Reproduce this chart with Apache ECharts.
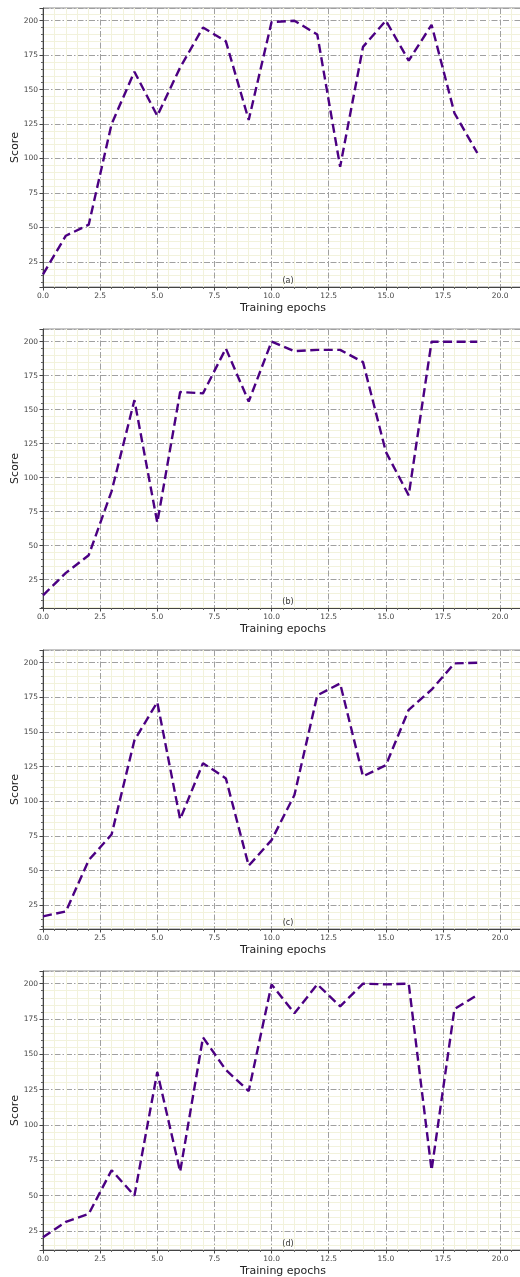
<!DOCTYPE html>
<html>
<head>
<meta charset="utf-8">
<script src="https://cdn.jsdelivr.net/npm/echarts@6/dist/echarts.min.js"></script>
<style>
html,body{margin:0;padding:0;background:#fff;}
#chart{width:520px;height:1277px;}
</style>
</head>
<body>
<div id="chart"></div>
<script>
// ---- data ----
const epochs = [0,1,2,3,4,5,6,7,8,9,10,11,12,13,14,15,16,17,18,19];
const scoresA = [16, 44, 52, 125, 163, 131, 166, 195, 185, 128, 199, 200, 190, 94, 181, 200, 171, 197, 133, 104];
const scoresB = [13.5, 30, 43, 90, 157, 67, 163, 162, 195, 156, 200, 193, 194, 194, 185, 119, 87, 200, 200, 200];
const scoresC = [17, 20.5, 57.5, 76, 144, 171.5, 87, 127.5, 116.5, 53.5, 72, 104.5, 176.5, 185, 118, 126, 166, 180.5, 199.5, 200];
const scoresD = [20.5, 31.5, 37, 68, 50, 137.5, 67, 162, 139, 124, 199.5, 179, 199.5, 184, 200, 199.5, 200, 68, 182, 192];
const panelLabels = ['(a)', '(b)', '(c)', '(d)'];
const xTitle = 'Training epochs';
const yTitle = 'Score';

const allScores = [scoresA, scoresB, scoresC, scoresD];

// ---- layout / style ----
const FONT = 'DejaVu Sans';
const tops = [8, 329, 650, 971];
const plotH = 279;
const left = 43;
const right = -3;

const grids = [], xAxes = [], yAxes = [], series = [], titles = [];

allScores.forEach((s, i) => {
  const dmin = Math.min(...s), dmax = Math.max(...s);
  const pad = 0.05 * (dmax - dmin);
  grids.push({
    left: left, right: right, top: tops[i], height: plotH,
    containLabel: false, outerBoundsMode: 'none',
    show: true, borderColor: '#8c8c8c', borderWidth: 1, backgroundColor: '#ffffff'
  });
  xAxes.push({
    type: 'value', gridIndex: i, min: 0, max: 21, interval: 2.5,
    name: xTitle, nameLocation: 'middle', nameGap: 16, nameMoveOverlap: false,
    nameTextStyle: { fontFamily: FONT, fontSize: 11, color: '#222' },
    axisLine: { show: true, onZero: false, lineStyle: { color: '#444', width: 1 } },
    axisTick: { show: true, inside: false, length: 3.5, lineStyle: { color: '#444' } },
    minorTick: { show: true, splitNumber: 5, length: 2, lineStyle: { color: '#666' } },
    axisLabel: {
      fontFamily: FONT, fontSize: 7.5, color: '#444', margin: 5,
      formatter: v => (v > 20.01 ? '' : v.toFixed(1))
    },
    splitLine: { show: true, lineStyle: { color: '#a0a0a0', width: 1, type: [6, 2, 1.5, 2] } },
    minorSplitLine: { show: true, lineStyle: { color: '#f2f2dc', width: 1 } },
    z: 3
  });
  yAxes.push({
    type: 'value', gridIndex: i, min: dmin - pad, max: dmax + pad,
    minInterval: 25, maxInterval: 25,
    name: yTitle, nameLocation: 'middle', nameGap: 22, nameMoveOverlap: false,
    nameTextStyle: { fontFamily: FONT, fontSize: 11, color: '#222' },
    axisLine: { show: true, lineStyle: { color: '#444', width: 1 } },
    axisTick: { show: true, inside: false, length: 3.5, lineStyle: { color: '#444' } },
    minorTick: { show: true, splitNumber: 5, length: 2, lineStyle: { color: '#666' } },
    axisLabel: {
      fontFamily: FONT, fontSize: 7.5, color: '#444', margin: 5,
      formatter: v => (Math.abs(v % 25) < 1e-6 ? String(Math.round(v)) : '')
    },
    splitLine: { show: true, lineStyle: { color: '#a0a0a0', width: 1, type: [6, 2, 1.5, 2] } },
    minorSplitLine: { show: true, lineStyle: { color: '#f2f2dc', width: 1 } },
    z: 3
  });
  series.push({
    type: 'line', xAxisIndex: i, yAxisIndex: i,
    data: epochs.map((e, k) => [e, s[k]]),
    showSymbol: false, symbol: 'none', animation: false,
    lineStyle: { color: '#4B0082', width: 2.4, type: [9, 4.5] },
    z: 5
  });
  titles.push({
    text: panelLabels[i], left: 283, top: tops[i] + plotH - 15, textAlign: 'center',
    textStyle: { fontFamily: FONT, fontSize: 8, fontWeight: 'normal', color: '#333' }
  });
});

const chart = echarts.init(document.getElementById('chart'), null, { renderer: 'canvas' });
chart.setOption({
  backgroundColor: '#ffffff',
  animation: false,
  title: titles,
  grid: grids,
  xAxis: xAxes,
  yAxis: yAxes,
  series: series
});
</script>
</body>
</html>
